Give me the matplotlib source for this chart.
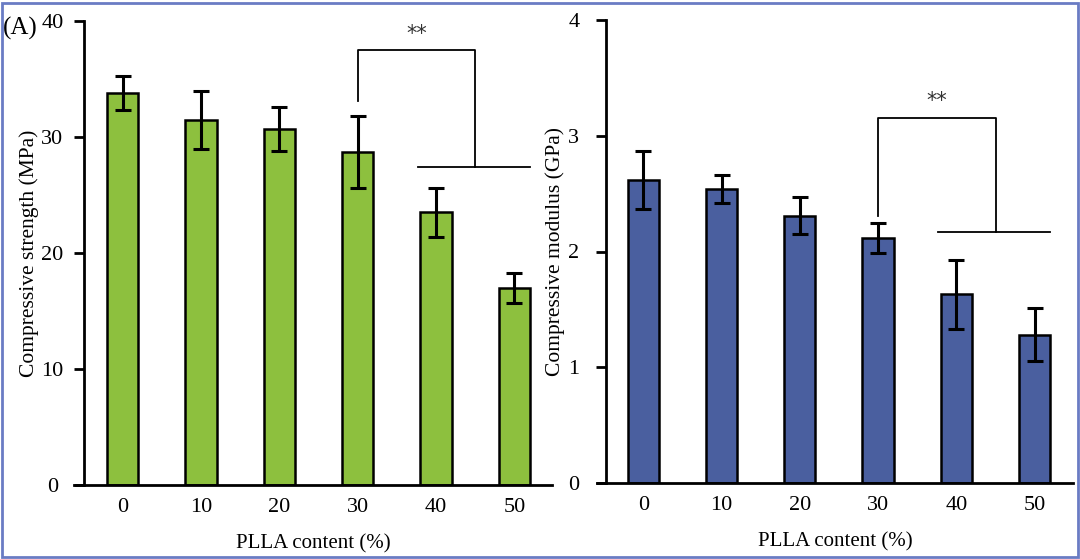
import numpy as np
import matplotlib.pyplot as plt
from matplotlib.patches import Rectangle

plt.rcParams['font.family'] = ['Liberation Serif', 'DejaVu Serif']

# Data
pllas = ['0', '10', '20', '30', '40', '50']
strength = [33.8, 31.5, 30.7, 28.7, 23.5, 17.0]
strength_err = [1.5, 2.5, 1.9, 3.1, 2.1, 1.3]
modulus = [2.62, 2.54, 2.31, 2.12, 1.63, 1.28]
modulus_err = [0.25, 0.12, 0.16, 0.13, 0.30, 0.23]

# bracket: left leg top, bracket top, right leg bottom
sig_strength = [33.1, 37.5, 27.4]
sig_modulus = [2.31, 3.15, 2.17]

W, H = 1080, 559
fig = plt.figure(figsize=(W / 100, H / 100), dpi=100)


def px_axes(x0, x1, ytop, ybot):
    return fig.add_axes([x0 / W, (H - ybot) / H, (x1 - x0) / W, (ybot - ytop) / H])


def panel(ax, vals, errs, color, ymax, ystep, ylabel, spine_x, xlim, sig, star_y):
    x = np.arange(len(pllas))
    ax.bar(x, vals, width=0.4, color=color, edgecolor='black', linewidth=1.8, zorder=2)
    ax.errorbar(x, vals, yerr=errs, fmt='none', ecolor='black', elinewidth=2.2,
                capsize=5.5, capthick=2.2, zorder=3)
    ax.set_xlim(*xlim)
    ax.set_ylim(0, ymax)
    ax.set_xticks(x)
    ax.set_xticklabels(pllas)
    ax.set_yticks(np.arange(0, ymax + ystep / 2, ystep))
    ax.spines['top'].set_visible(False)
    ax.spines['right'].set_visible(False)
    ax.spines['left'].set_position(('data', spine_x))
    for s in ['left', 'bottom']:
        ax.spines[s].set_linewidth(2)
    ax.tick_params(axis='x', length=0, pad=9, labelsize=16)
    ax.tick_params(axis='y', length=7, width=2, pad=16, labelsize=16)
    for lab in ax.get_yticklabels():
        lab.set_horizontalalignment('center')
    ax.set_xlabel('PLLA content (%)', fontsize=15, labelpad=13)
    ax.set_ylabel(ylabel, fontsize=15.5, labelpad=2)

    lo, top, hi = sig
    ax.plot([3, 3, 4.5, 4.5], [lo, top, top, hi], color='black', lw=1.3, zorder=3)
    ax.plot([3.77, 5.2], [hi, hi], color='black', lw=1.3, zorder=3)
    ax.text(3.75, star_y, '**', ha='center', va='center', fontsize=15, color='#333333',
            family='DejaVu Sans')


ax1 = px_axes(74, 552, 21, 485)
panel(ax1, strength, strength_err, '#8DC03E', 40, 10, 'Compressive strength (MPa)',
      -0.49, (-0.623, 5.48), sig_strength, 38.9)

ax2 = px_axes(597, 1073, 20, 483)
panel(ax2, modulus, modulus_err, '#4A5F9F', 4, 1, 'Compressive modulus (GPa)',
      -0.48, (-0.591, 5.49), sig_modulus, 3.30)

fig.text(3 / W, 1 - 28 / H, '(A)', fontsize=18, ha='left', va='center')

fig.patches.append(Rectangle((2 / W, 2 / H), 1 - 4 / W, 1 - 5 / H, transform=fig.transFigure,
                             fill=False, edgecolor='#6A7CC4', linewidth=2))

fig.savefig('out.png', dpi=100)
